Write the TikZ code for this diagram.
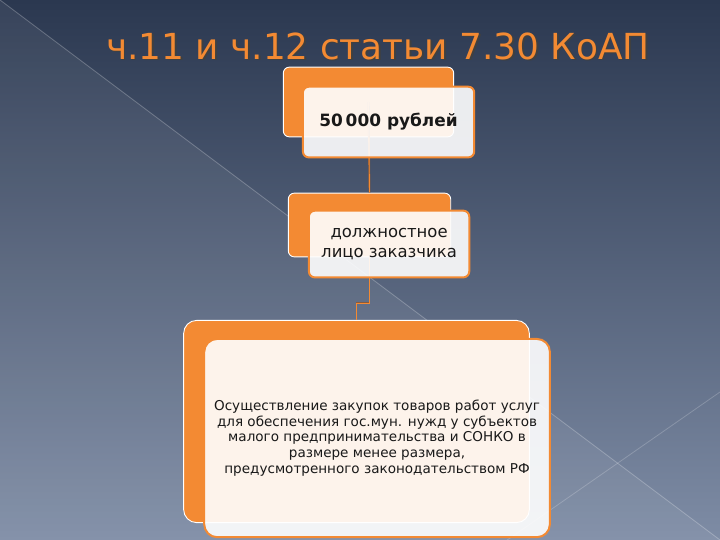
\documentclass[tikz,border=0pt]{standalone}
\usepackage{fontspec}
\setmainfont{DejaVu Sans}
\usepackage{xcolor}
\usetikzlibrary{positioning,backgrounds}

\definecolor{skytop}{HTML}{2B3850}
\definecolor{skybot}{HTML}{7E8CA5}
\definecolor{koaporange}{HTML}{F38A33}
\definecolor{linkbrown}{HTML}{8A5A3A}

\begin{document}
\begin{tikzpicture}[x=1bp,y=-1bp,
	backbox/.style={rectangle, rounded corners=6bp, fill=koaporange, draw=white, line width=0.9bp},
	frontbox/.style={rectangle, rounded corners=6bp, draw=koaporange, line width=2bp, fill=white, fill opacity=0.9, text opacity=1, text=black!90, align=center, inner sep=2bp},
	link/.style={draw=linkbrown, double=koaporange, double distance=0.9bp, line width=0.5bp}]
	\useasboundingbox (0,0) rectangle (720,540);
	% background
	\shade[top color=skytop, bottom color=skybot] (0,0) rectangle (720,540);
	\fill[white, opacity=0.06] (0,0) -- (720,540) -- (0,540) -- cycle;
	\draw[white, opacity=0.25, line width=0.8bp] (0,0) -- (720,540);
	\draw[white, opacity=0.2, line width=0.8bp] (720,392) -- (500,545);

	% title
	\node[font=\fontsize{36}{40}\selectfont] (title) at (378,47) {%
		\makebox[0pt][l]{\hspace{1.5bp}\raisebox{-1.5bp}{\color{black!75}ч.11 и ч.12 статьи 7.30 КоАП}}%
		\color{koaporange}ч.11 и ч.12 статьи 7.30 КоАП};

	% back boxes
	\node[backbox, minimum width=171, minimum height=70] (b1) at (368.5,102) {};
	\node[backbox, minimum width=163, minimum height=64] (b2) at (369.5,225) {};
	\node[backbox, rounded corners=13bp, minimum width=347, minimum height=203] (b3) at (356.5,421.5) {};

	% connectors
	\coordinate (elb) at (363,303);
	\draw[link] (b1.center) -- (b2.north);
	\draw[link] (b2.south) -- (b2.south |- elb) -- (b3.north |- elb) -- (b3.north);

	% front boxes
	\node[frontbox, minimum width=172, minimum height=71, anchor=north west, font=\fontsize{17}{20}\selectfont\bfseries] (f1)
		at ([xshift=19bp,yshift=-19bp]b1.north west) {50\,000 рублей};
	\node[frontbox, minimum width=161, minimum height=67, anchor=north west, font=\fontsize{16.5}{21}\selectfont] (f2)
		at ([xshift=20bp,yshift=-17bp]b2.north west) {должностное\\ лицо заказчика};
	\node[frontbox, rounded corners=13bp, minimum width=347, minimum height=199, anchor=north west, font=\fontsize{13.6}{15.8}\selectfont] (f3)
		at ([xshift=20bp,yshift=-18bp]b3.north west)
		{Осуществление закупок товаров работ услуг\\ для обеспечения гос.мун. нужд у субъектов\\ малого предпринимательства и СОНКО в\\ размере менее размера,\\ предусмотренного законодательством РФ};
\end{tikzpicture}
\end{document}
